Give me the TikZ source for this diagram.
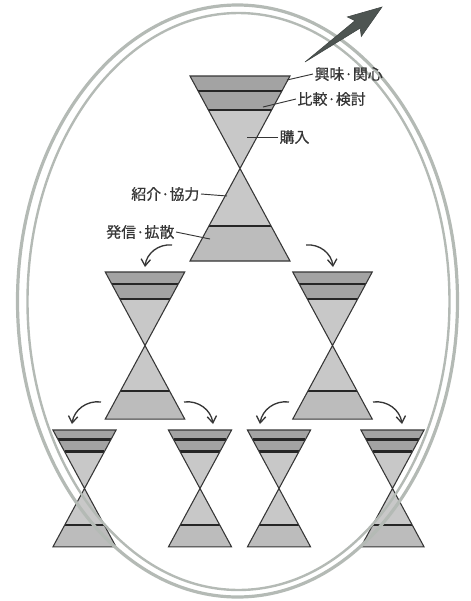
\documentclass[tikz,border=0pt]{standalone}
\usepackage{fontspec}
\setmainfont{Noto Sans CJK JP}
\newfontfamily\jpfont{Noto Sans CJK JP}[FakeBold=0.6]
\usetikzlibrary{arrows.meta}

\definecolor{bandDark}{HTML}{A3A3A3}
\definecolor{bandLight}{HTML}{C8C8C8}
\definecolor{bandLow}{HTML}{BCBCBC}
\definecolor{ringGray}{HTML}{B4BAB5}
\definecolor{inkGray}{HTML}{363636}
\definecolor{arrowGray}{HTML}{4E5552}

\tikzset{
  pics/hourglass/.style={code={
    \fill[bandLight] (-50,0) -- (50,0) -- (0,92.5) -- cycle;
    \fill[bandDark] (-50,0) -- (50,0) -- (31.6,34) -- (-31.6,34) -- cycle;
    \fill[bandLight] (0,92.5) -- (50,185) -- (-50,185) -- cycle;
    \fill[bandLow] (-31.1,150) -- (31.1,150) -- (50,185) -- (-50,185) -- cycle;
    \draw[band line] (-41.9,15) -- (41.9,15);
    \draw[band line] (-31.6,34) -- (31.6,34);
    \draw[band line] (-31.1,150) -- (31.1,150);
    \draw[glass edge] (-50,0) -- (50,0) -- (-50,185) -- (50,185) -- cycle;
  }}
}

\begin{document}
\begin{tikzpicture}[x=0.75pt, y=-0.75pt,
    band line/.style={line width=1.6pt, black!85},
    glass edge/.style={line width=0.8pt, inkGray, line join=miter},
    flow/.style={line width=1pt, inkGray, -{Straight Barb[length=5pt,width=7pt]}},
    ring/.style={line width=2.4pt, ringGray},
    label/.style={font=\jpfont\fontsize{11.2pt}{13pt}\selectfont, text=inkGray, inner sep=1pt},
    leader/.style={line width=0.7pt, inkGray}]
    \useasboundingbox (0,0) rectangle (471,601);

    % hourglasses
    \pic at (240,76) {hourglass};
    \pic[scale=0.795] at (145,272) {hourglass};
    \pic[scale=0.795] at (332.5,272) {hourglass};
    \pic[scale=0.632] at (84.5,430) {hourglass};
    \pic[scale=0.632] at (200,430) {hourglass};
    \pic[scale=0.632] at (279,430) {hourglass};
    \pic[scale=0.632] at (392.5,430) {hourglass};

    % rings
    \draw[ring] (237.5,301) ellipse [x radius=220, y radius=296];
    \draw[ring, line width=1.8pt] (238.5,301.5) ellipse [x radius=211, y radius=288.5];

    % growth arrow
    \filldraw[fill=arrowGray, draw=arrowGray!80!black, line width=0.4pt]
      (305,62) -- (355.0,20.7) -- (347.3,16.9) -- (382,7)
      -- (361.3,36.5) -- (360.2,28.1) -- cycle;

    % labels
    \node[label, anchor=west] (kyomi) at (313,74) {興味·関心};
    \node[label, anchor=west] (hikaku) at (296,99) {比較·検討};
    \node[label, anchor=west] (konyu) at (278,137) {購入};
    \node[label, anchor=east] (shokai) at (201,194) {紹介·協力};
    \node[label, anchor=east] (hasshin) at (176,232) {発信·拡散};

    \coordinate (kyomiP) at (287,80);
    \coordinate (hikakuP) at (263,107);
    \coordinate (konyuP) at (247,137);
    \coordinate (shokaiP) at (227,196);
    \coordinate (hasshinP) at (210,239);

    \draw[leader] (kyomi.west) -- (kyomiP);
    \draw[leader] (hikaku.west) -- (hikakuP);
    \draw[leader] (konyu.west) -- (konyuP);
    \draw[leader] (shokai.east) -- (shokaiP);
    \draw[leader] (hasshin.east) -- (hasshinP);

    % spreading arrows
    \coordinate (a1s) at (172,245);  \coordinate (a1e) at (145,267);
    \coordinate (a2s) at (306,245);  \coordinate (a2e) at (333,267);
    \coordinate (b1s) at (101,402);  \coordinate (b1e) at (72,424);
    \coordinate (b2s) at (184,402);  \coordinate (b2e) at (213,424);
    \coordinate (b3s) at (289,402);  \coordinate (b3e) at (260,424);
    \coordinate (b4s) at (373,402);  \coordinate (b4e) at (402,424);

    \draw[flow] (a1s) to[bend right=45] (a1e);
    \draw[flow] (a2s) to[bend left=45] (a2e);
    \draw[flow] (b1s) to[bend right=45] (b1e);
    \draw[flow] (b2s) to[bend left=45] (b2e);
    \draw[flow] (b3s) to[bend right=45] (b3e);
    \draw[flow] (b4s) to[bend left=45] (b4e);
\end{tikzpicture}
\end{document}
